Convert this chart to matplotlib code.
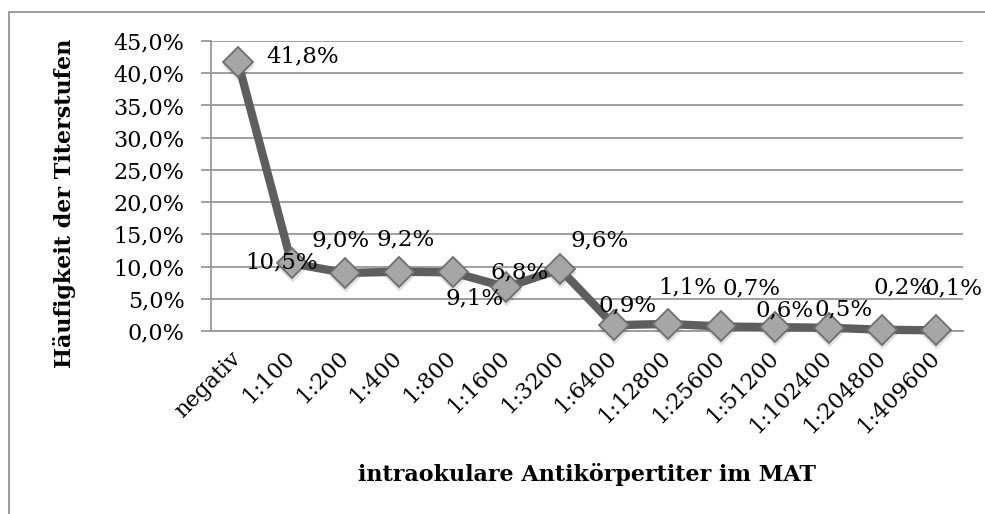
import matplotlib
matplotlib.use("Agg")
import matplotlib.pyplot as plt
import matplotlib.transforms as mtransforms
from matplotlib.ticker import FuncFormatter, MultipleLocator
from matplotlib.patches import Rectangle

categories = ["negativ", "1:100", "1:200", "1:400", "1:800", "1:1600", "1:3200",
              "1:6400", "1:12800", "1:25600", "1:51200", "1:102400", "1:204800", "1:409600"]
values = [41.8, 10.5, 9.0, 9.2, 9.1, 6.8, 9.6, 0.9, 1.1, 0.7, 0.6, 0.5, 0.2, 0.1]
value_labels = ["41,8%", "10,5%", "9,0%", "9,2%", "9,1%", "6,8%", "9,6%",
                "0,9%", "1,1%", "0,7%", "0,6%", "0,5%", "0,2%", "0,1%"]
# label offsets in pixels (dx, dy) relative to marker, label centred
label_offsets = [(65, 5), (-10, 1), (-5, 33), (7, 32), (22, -26), (13, 15), (39, 29),
                 (14, 20), (20, 36), (30, 38), (10, 17), (15, 18), (20, 42), (17, 42)]

FONT = "DejaVu Serif"
plt.rcParams["font.family"] = [FONT]

fig = plt.figure(figsize=(9.85, 5.14), dpi=100)
W, H = 985, 514
ax = fig.add_axes([211 / W, 1 - 331 / H, (963 - 211) / W, (331 - 41) / H])

# outer chart border
fig.patches.append(Rectangle((9 / W, -0.1), 1.2, 1 - 12 / H + 0.1, transform=fig.transFigure,
                             fill=False, edgecolor="#8c8c8c", linewidth=1.2))

x = list(range(len(categories)))
# marker shadow
ax.plot(x, values, linestyle="none", marker="D", markersize=16,
        markerfacecolor="#000000", markeredgecolor="none", alpha=0.12,
        transform=ax.transData + mtransforms.ScaledTranslation(0, -3 / 100, fig.dpi_scale_trans),
        zorder=3, clip_on=False)
ax.plot(x, values, color="#5e5e5e", linewidth=6, marker="D", markersize=15,
        markerfacecolor="#a6a6a6", markeredgecolor="#6e6e6e", markeredgewidth=1.3,
        zorder=4, clip_on=False, solid_joinstyle="round")

for xi, v, lab, (dx, dy) in zip(x, values, value_labels, label_offsets):
    ax.annotate(lab, (xi, v), xytext=(dx * 0.72, dy * 0.72), textcoords="offset points",
                ha="center", va="center", fontsize=16.5, color="#000000", zorder=5,
                annotation_clip=False)

ax.set_xlim(-0.5, len(categories) - 0.5)
ax.set_ylim(0, 45)
ax.yaxis.set_major_locator(MultipleLocator(5))
ax.yaxis.set_major_formatter(FuncFormatter(lambda v, p: f"{v:.1f}".replace(".", ",") + "%"))
ax.grid(axis="y", color="#999999", linewidth=1.3)
ax.set_axisbelow(True)

ax.set_xticks(x)
ax.set_xticklabels(categories, rotation=45, ha="right", va="center", rotation_mode="anchor",
                   fontsize=16)
ax.tick_params(axis="x", length=0, pad=17)
ax.tick_params(axis="y", length=7, width=1.3, color="#999999", labelsize=16, pad=12)

for s in ["top", "right"]:
    ax.spines[s].set_visible(False)
for s in ["left", "bottom"]:
    ax.spines[s].set_color("#999999")
    ax.spines[s].set_linewidth(1.3)

fig.text(65 / W, 1 - 203 / H, "Häufigkeit der Titerstufen", rotation=90, ha="center", va="center",
         fontsize=16, fontweight="bold")
fig.text(587 / W, 1 - 475 / H, "intraokulare Antikörpertiter im MAT", ha="center", va="center",
         fontsize=16, fontweight="bold")

fig.savefig("out.png", dpi=100)
